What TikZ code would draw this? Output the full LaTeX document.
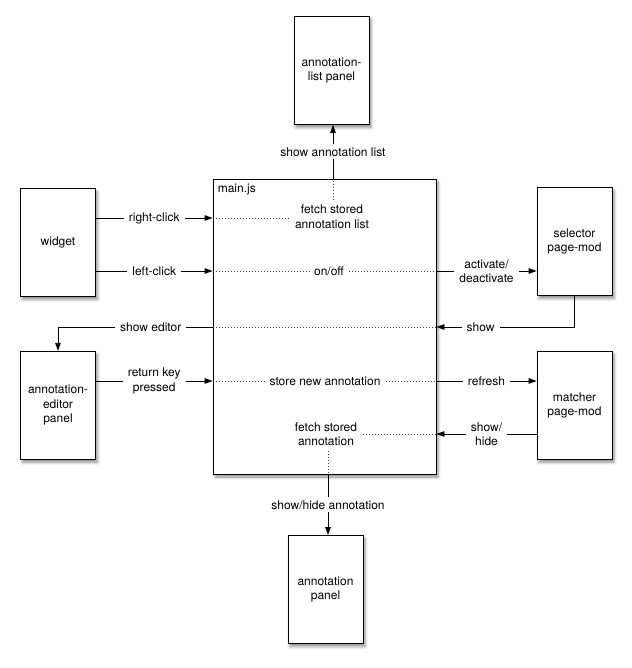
\documentclass[tikz,border=0pt]{standalone}
\usepackage{fontspec}
\setmainfont{TeX Gyre Heros}
\usetikzlibrary{positioning,calc,arrows.meta,shadows.blur}

\tikzstyle{linelabel} = [
    % draw=black,
    fill=white,
    inner xsep=5pt,
    inner ysep=3pt,
    align=center
]

\begin{document}
\begin{tikzpicture}[
        x=1pt, y=1pt,
        every node/.style={font=\fontsize{12}{14.5}\selectfont},
        panel/.style={
            rectangle, draw=black, line width=0.8pt, fill=white,
            minimum width=75pt, minimum height=108pt,
            align=center, inner sep=2pt,
            blur shadow={shadow xshift=2pt, shadow yshift=-3pt,
                shadow blur radius=3pt, shadow opacity=45}
        },
        inside/.style={align=center, inner sep=5pt},
        flow/.style={line width=0.8pt, -{Triangle[length=8pt,width=5.5pt]}},
        inner/.style={line width=0.7pt, black!75, dash pattern=on 1pt off 2pt}
    ]
        \useasboundingbox (0,0) rectangle (631,-668);

        \node[panel, minimum width=223pt, minimum height=295pt] (main) at (324.5,-326.5) {};
        \node[anchor=north west, inner sep=5pt] (mainname) at (main.north west) {main.js};

        \node[panel] (widget) at (58,-242.5) {widget};
        \node[panel] (editor) [below=54pt of widget] {annotation-\\editor\\panel};
        \node[panel] (selector) at (574.5,-241.5) {selector\\page-mod};
        \node[panel] (matcher) [below=55pt of selector] {matcher\\page-mod};
        \node[panel] (listpanel) at (331.5,-70.5) {annotation-\\list panel};
        \node[panel] (annpanel) at (325.5,-589.5) {annotation\\panel};

        \node[inside] (fetchlist) at (332,-216.5) {fetch stored\\annotation list};
        \node[inside] (onoff) at (329,-271) {on/off};
        \node[inside] (storenew) at (325,-381) {store new annotation};
        \node[inside] (fetchann) at (326,-434) {fetch stored\\annotation};

        \coordinate (rowrc) at (0,-218);
        \coordinate (rowlc) at (0,-271);
        \coordinate (rowse) at (0,-327);
        \coordinate (rowrk) at (0,-381);
        \coordinate (rowsh) at (0,-434);
        \coordinate (colup) at (333,0);
        \coordinate (coldn) at (328,0);

        \draw[flow] (widget.east |- rowrc) -- node[linelabel] {right-click} (main.west |- rowrc);
        \draw[inner] (main.west |- rowrc) -- (fetchlist.west |- rowrc);
        \draw[inner] (fetchlist.north -| colup) -- (main.north -| colup);
        \draw[flow] (main.north -| colup) -- node[linelabel] {show annotation list} (listpanel.south -| colup);

        \draw[flow] (widget.east |- rowlc) -- node[linelabel] {left-click} (main.west |- rowlc);
        \draw[inner] (main.west |- rowlc) -- (onoff.west);
        \draw[inner] (onoff.east) -- (main.east |- rowlc);
        \draw[flow] (main.east |- rowlc) -- node[linelabel] {activate/\\deactivate} (selector.west |- rowlc);

        \draw[flow] (selector.south) |- node[linelabel, pos=0.84] {show} (main.east |- rowse);
        \draw[inner] (main.east |- rowse) -- (main.west |- rowse);
        \draw[flow] (main.west |- rowse) -| node[linelabel, pos=0.2] {show editor} (editor.north);

        \draw[flow] (editor.east |- rowrk) -- node[linelabel] {return key\\pressed} (main.west |- rowrk);
        \draw[inner] (main.west |- rowrk) -- (storenew.west);
        \draw[inner] (storenew.east) -- (main.east |- rowrk);
        \draw[flow] (main.east |- rowrk) -- node[linelabel] {refresh} (matcher.west |- rowrk);

        \draw[flow] (matcher.west |- rowsh) -- node[linelabel] {show/\\hide} (main.east |- rowsh);
        \draw[inner] (main.east |- rowsh) -- (fetchann.east);
        \draw[inner] (fetchann.south -| coldn) -- (main.south -| coldn);
        \draw[flow] (main.south -| coldn) -- node[linelabel] {show/hide annotation} (annpanel.north -| coldn);
    \end{tikzpicture}
\end{document}
